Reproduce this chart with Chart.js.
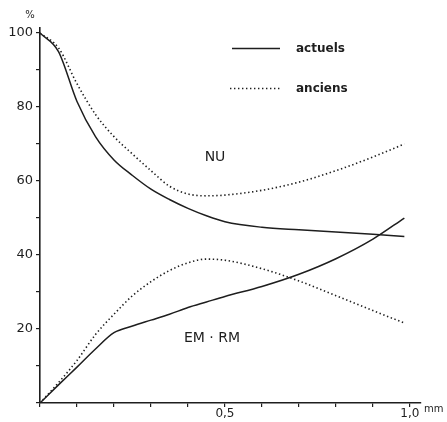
<!DOCTYPE html>
<html>
<head>
<meta charset="utf-8">
<script src="https://cdn.jsdelivr.net/npm/chart.js@4/dist/chart.umd.min.js"></script>
<style>
  html, body { margin: 0; padding: 0; background: #fff; }
  #graph { display: block; }
</style>
</head>
<body>
<canvas id="graph" width="447" height="422"></canvas>
<script>
// épaisseur (mm) commune aux quatre courbes
var mm = [0, 0.05, 0.1, 0.15, 0.2, 0.25, 0.3, 0.35, 0.4, 0.45, 0.5, 0.6, 0.7, 0.8, 0.9, 0.985];

// NU
var nuActuels = [100, 95, 81.5, 72, 65.7, 61.5, 57.8, 55, 52.6, 50.6, 49, 47.5, 46.8, 46.2, 45.6, 45];
var nuAnciens = [100, 96, 86.3, 78, 72, 67.3, 62.8, 58.6, 56.5, 56, 56.2, 57.5, 59.7, 62.8, 66.5, 70];

// EM · RM
var emActuels = [0, 4.9, 9.7, 14.6, 19, 20.8, 22.4, 24, 25.8, 27.3, 28.8, 31.5, 34.8, 39, 44.3, 50];
var emAnciens = [0, 5.5, 11.5, 18.5, 24, 29, 32.8, 35.8, 37.9, 38.9, 38.6, 36.3, 33, 29, 25, 21.6];

// graduations
var yTicks = [0, 10, 20, 30, 40, 50, 60, 70, 80, 90, 100];
var yLabels = { 20: '20', 40: '40', 60: '60', 80: '80', 100: '100' };
var xTicks = [0, 0.1, 0.2, 0.3, 0.4, 0.5, 0.6, 0.7, 0.8, 0.9, 1.0];
var xLabels = { 5: '0,5', 10: '1,0' };

var INK = '#1e1e1e';
var DOTS = [1.4, 2.6];

var pts = function (ys) {
  return mm.map(function (x, i) { return { x: x, y: ys[i] }; });
};

var serie = function (ys, dotted) {
  return {
    data: pts(ys),
    borderColor: INK,
    borderWidth: dotted ? 1.6 : 1.5,
    borderDash: dotted ? DOTS : [],
    pointRadius: 0,
    fill: false,
    cubicInterpolationMode: 'monotone'
  };
};

// textes dessinés sur le graphe : légende, NU, EM · RM, unités
var annotations = {
  id: 'annotations',
  afterDraw: function (chart) {
    var c = chart.ctx;
    c.save();
    c.strokeStyle = INK;
    c.fillStyle = INK;

    // légende
    c.lineWidth = 1.5;
    c.setLineDash([]);
    c.beginPath(); c.moveTo(232, 48.5); c.lineTo(280, 48.5); c.stroke();
    c.lineWidth = 1.6;
    c.setLineDash(DOTS);
    c.beginPath(); c.moveTo(230, 88.5); c.lineTo(282, 88.5); c.stroke();
    c.setLineDash([]);

    c.font = 'bold 12px "DejaVu Sans"';
    c.textAlign = 'left';
    c.textBaseline = 'middle';
    c.fillText('actuels', 296, 49);
    c.fillText('anciens', 296, 89);

    c.font = '14px "DejaVu Sans"';
    c.textAlign = 'center';
    c.fillText('NU', 215, 157);
    c.fillText('EM · RM', 212, 338);

    c.font = '10px "DejaVu Sans"';
    c.fillText('%', 30, 15);
    c.textAlign = 'left';
    c.fillText('mm', 424, 409);
    c.restore();
  }
};

var toTicks = function (vals) {
  return vals.map(function (v) { return { value: v }; });
};

var ctx = document.getElementById('graph').getContext('2d');
new Chart(ctx, {
  type: 'line',
  data: {
    datasets: [
      serie(nuActuels, false),
      serie(nuAnciens, true),
      serie(emActuels, false),
      serie(emAnciens, true)
    ]
  },
  options: {
    responsive: false,
    animation: false,
    layout: { padding: { top: 27.5, right: 26, bottom: 0, left: 0 } },
    plugins: { legend: { display: false }, tooltip: { enabled: false } },
    scales: {
      x: {
        type: 'linear',
        min: 0,
        max: 1.03,
        afterBuildTicks: function (s) { s.ticks = toTicks(xTicks); },
        afterFit: function (s) { s.height = 19; },
        border: { display: true, color: INK, width: 1.6 },
        grid: { drawOnChartArea: false, drawTicks: true, tickLength: 4, color: INK, lineWidth: 1.2 },
        ticks: {
          autoSkip: false,
          maxRotation: 0,
          padding: 0,
          color: INK,
          font: { family: 'DejaVu Sans', size: 12 },
          callback: function (v) {
            var k = Math.round(v * 10);
            return xLabels[k] || '';
          }
        }
      },
      y: {
        type: 'linear',
        min: 0,
        max: 101.5,
        afterBuildTicks: function (s) { s.ticks = toTicks(yTicks); },
        afterFit: function (s) { s.width = 40; },
        border: { display: true, color: INK, width: 1.6 },
        grid: { drawOnChartArea: false, drawTicks: true, tickLength: 4, color: INK, lineWidth: 1.2 },
        ticks: {
          autoSkip: false,
          padding: 3,
          color: INK,
          font: { family: 'DejaVu Sans', size: 13 },
          callback: function (v) { return yLabels[Math.round(v)] || ''; }
        }
      }
    }
  },
  plugins: [annotations]
});
</script>
</body>
</html>
